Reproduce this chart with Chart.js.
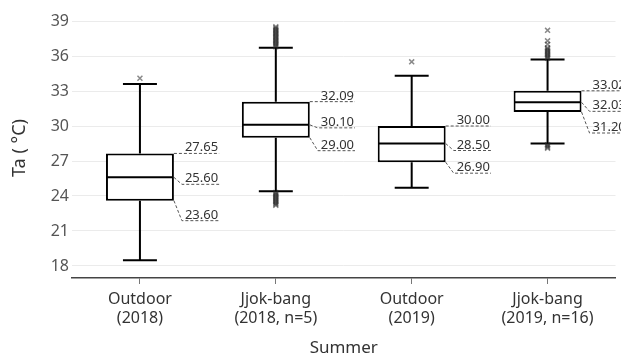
<!DOCTYPE html>
<html>
<head>
<meta charset="utf-8">
<script src="https://cdn.jsdelivr.net/npm/chart.js@4"></script>
<style>
  html, body { margin: 0; padding: 0; background: #fff; }
</style>
</head>
<body>
<canvas id="c" width="621" height="358"></canvas>
<script>
// Summer air temperature (Ta) distributions, outdoor vs. jjok-bang rooms
const categories = [
  ['Outdoor', '(2018)'],
  ['Jjok-bang', '(2018, n=5)'],
  ['Outdoor', '(2019)'],
  ['Jjok-bang', '(2019, n=16)']
];
const whiskerLow  = [18.5, 24.4, 24.7, 28.5];
const q1          = [23.60, 29.00, 26.90, 31.20];
const median      = [25.60, 30.10, 28.50, 32.03];
const q3          = [27.65, 32.09, 30.00, 33.02];
const whiskerHigh = [33.6, 36.7, 34.3, 35.7];
const outliers = [
  [34.1],
  [36.8, 36.9, 37.0, 37.1, 37.2, 37.3, 37.4, 37.5, 37.6, 37.7, 37.8, 37.9, 38.0,
   38.1, 38.2, 38.3, 38.4, 38.5,
   24.3, 24.2, 24.1, 24.0, 23.9, 23.8, 23.7, 23.6, 23.5, 23.4, 23.3, 23.2],
  [35.5],
  [38.2, 37.3, 37.0, 36.7, 36.6, 36.5, 36.4, 36.3, 36.2, 36.1, 36.0, 35.9, 35.8,
   28.4, 28.3, 28.2, 28.1]
];
const yTicks = [18, 21, 24, 27, 30, 33, 36, 39];

// vertical drop (px) of the Q3 / median / Q1 value labels, to keep them apart
const labelDrop = [[0, 7, 20], [0, 3, 13], [0, 7, 11], [0, 9, 21]];

const FONT = 'Noto Sans';

const outlierPoints = outliers.flatMap((vals, i) => vals.map(v => ({ x: categories[i], y: v })));

const boxParts = {
  id: 'boxParts',
  beforeDatasetsDraw(chart) {
    const { ctx } = chart;
    const y = chart.scales.y;
    const meta = chart.getDatasetMeta(0);
    ctx.save();
    ctx.strokeStyle = '#000';
    ctx.lineWidth = 2;
    meta.data.forEach((bar, i) => {
      const cap = bar.width * 0.5;
      const yl = y.getPixelForValue(whiskerLow[i]);
      const yh = y.getPixelForValue(whiskerHigh[i]);
      ctx.beginPath();
      ctx.moveTo(bar.x, yl); ctx.lineTo(bar.x, y.getPixelForValue(q1[i]));
      ctx.moveTo(bar.x, y.getPixelForValue(q3[i])); ctx.lineTo(bar.x, yh);
      ctx.moveTo(bar.x - cap / 2, yl); ctx.lineTo(bar.x + cap / 2, yl);
      ctx.moveTo(bar.x - cap / 2, yh); ctx.lineTo(bar.x + cap / 2, yh);
      ctx.stroke();
    });
    ctx.restore();
  },
  afterDatasetsDraw(chart) {
    const { ctx } = chart;
    const y = chart.scales.y;
    const meta = chart.getDatasetMeta(0);
    ctx.save();
    meta.data.forEach((bar, i) => {
      const left = bar.x - bar.width / 2;
      const right = bar.x + bar.width / 2;
      const ym = y.getPixelForValue(median[i]);
      ctx.strokeStyle = '#000';
      ctx.lineWidth = 2;
      ctx.setLineDash([]);
      ctx.beginPath();
      ctx.moveTo(left + 1, ym); ctx.lineTo(right - 1, ym);
      ctx.stroke();

      ctx.font = '13px "' + FONT + '"';
      ctx.textBaseline = 'alphabetic';
      ctx.textAlign = 'left';
      [q3[i], median[i], q1[i]].forEach((v, k) => {
        const yv = y.getPixelForValue(v);
        const ly = yv + labelDrop[i][k];
        const txt = v.toFixed(2);
        const xs = right + 11;
        const w = ctx.measureText(txt).width;
        ctx.strokeStyle = '#555';
        ctx.lineWidth = 1;
        ctx.setLineDash([3, 2]);
        ctx.beginPath();
        ctx.moveTo(right, yv);
        if (labelDrop[i][k] > 0) ctx.lineTo(right + 8, ly);
        ctx.lineTo(xs + w + 1, ly);
        ctx.stroke();
        ctx.fillStyle = '#333';
        ctx.fillText(txt, xs, ly - 2);
      });
    });
    ctx.restore();
  }
};

new Chart(document.getElementById('c'), {
  type: 'bar',
  data: {
    labels: categories,
    datasets: [
      {
        type: 'bar',
        data: q1.map((v, i) => [v, q3[i]]),
        backgroundColor: '#fff',
        borderColor: '#000',
        borderWidth: 2,
        borderSkipped: false,
        barPercentage: 0.5,
        categoryPercentage: 1,
        order: 2
      },
      {
        type: 'scatter',
        data: outlierPoints,
        pointStyle: 'crossRot',
        radius: 3.5,
        borderColor: 'rgba(40,40,40,0.55)',
        borderWidth: 1.5,
        order: 1
      }
    ]
  },
  options: {
    responsive: false,
    animation: false,
    devicePixelRatio: 1,
    layout: { padding: { top: 18, right: 4, left: 0, bottom: 0 } },
    plugins: { legend: { display: false }, tooltip: { enabled: false } },
    scales: {
      x: {
        offset: true,
        grid: { offset: false, drawOnChartArea: false, drawTicks: true, tickLength: 6, color: '#777' },
        border: { display: true, color: '#444', width: 1.5 },
        ticks: { color: '#333', font: { family: FONT, size: 16, lineHeight: 1.2 }, padding: 6, maxRotation: 0 },
        title: { display: true, text: 'Summer', color: '#333', font: { family: FONT, size: 17 }, padding: { top: 2, bottom: 0 } },
        afterFit(s) { s.height = 80; }
      },
      y: {
        min: 16.97,
        max: 39.26,
        afterBuildTicks(s) { s.ticks = yTicks.map(v => ({ value: v })); },
        grid: { color: '#ebebeb', drawTicks: false, lineWidth: 1 },
        border: { display: false },
        ticks: { color: '#555', font: { family: FONT, size: 16 }, padding: 3 },
        title: { display: true, text: 'Ta (\u00A0°C)', color: '#333', font: { family: FONT, size: 18 }, padding: { top: 9, bottom: 4 } },
        afterFit(s) { s.width = 72; }
      }
    }
  },
  plugins: [boxParts]
});
</script>
</body>
</html>
